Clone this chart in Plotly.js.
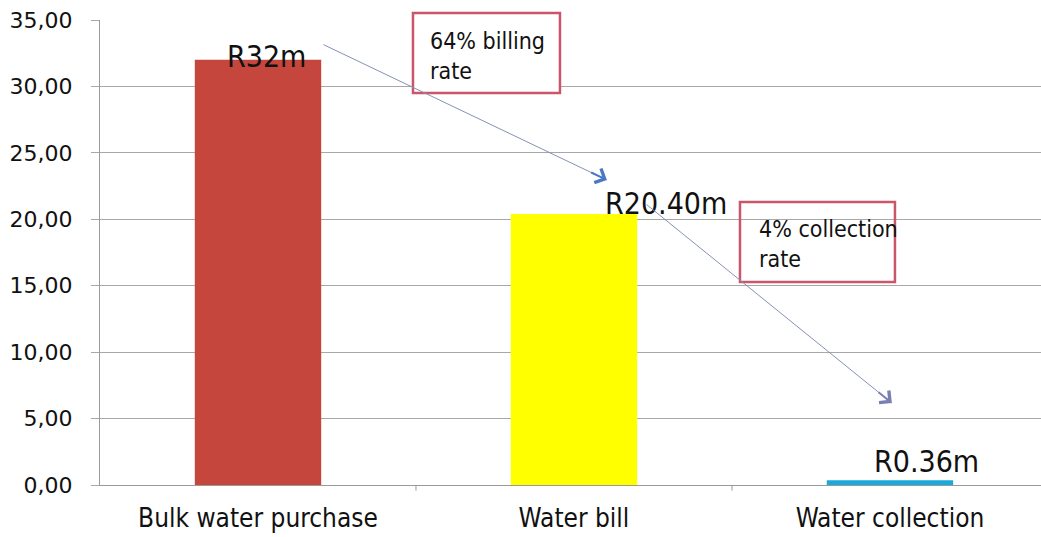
<!DOCTYPE html>
<html><head><meta charset="utf-8">
<script src="https://cdn.plot.ly/plotly-3.0.1.min.js"></script>
<style>html,body{margin:0;padding:0;background:#fff;}#chart{width:1041px;height:537px;}</style>
</head><body><div id="chart"></div>
<script>
const categories = ["Bulk water purchase", "Water bill", "Water collection"];
const values = [32, 20.40, 0.36];
const valueLabels = ["R32m", "R20.40m", "R0.36m"];
const barColors = ["#C4463D", "#FFFF00", "#1BA9DC"];
const rateLabels = ["64% billing<br>rate", "4% collection<br>rate"];

const FONT = "DejaVu Sans Condensed, DejaVu Sans, sans-serif";
const BOXCOLOR = "#C9566A";
const LINECOLOR = "#8592B4";

const trace = {
  type: "bar",
  x: categories.map((c, i) => i),
  y: values,
  width: 0.4,
  marker: {color: barColors},
  hoverinfo: "skip"
};

const annotations = [
  {x: 0, y: values[0], text: valueLabels[0], xshift: 9, yshift: 3},
  {x: 1, y: values[1], text: valueLabels[1], xshift: 92, yshift: 10},
  {x: 2, y: values[2], text: valueLabels[2], xshift: 37, yshift: 19}
].map(a => Object.assign({xref: "x", yref: "y", showarrow: false, yanchor: "middle",
  font: {family: FONT, size: 30, color: "#111"}}, a));

// arrows (tail -> head) in data coordinates
const arrows = [
  {tail: [0.2025, 33.2], head: [1.104, 22.96], headColor: "#4A78C6"},
  {tail: [1.225, 21.2], head: [2.006, 6.17], headColor: "#7A7EB0"}
];
arrows.forEach(a => {
  annotations.push({xref: "x", yref: "y", axref: "x", ayref: "y",
    x: a.head[0], y: a.head[1], ax: a.tail[0], ay: a.tail[1], text: "", showarrow: true,
    arrowhead: 0, arrowwidth: 1, arrowcolor: LINECOLOR});
  const bx = a.head[0] - (a.head[0] - a.tail[0]) * 0.06;
  const by = a.head[1] - (a.head[1] - a.tail[1]) * 0.06;
  annotations.push({xref: "x", yref: "y", axref: "x", ayref: "y",
    x: a.head[0], y: a.head[1], ax: bx, ay: by, text: "", showarrow: true,
    arrowhead: 4, arrowsize: 1.5, arrowwidth: 2, arrowcolor: a.headColor});
});

// rate box texts
annotations.push({xref: "paper", yref: "paper", x: 0.3485, y: 0.922, text: rateLabels[0],
  showarrow: false, align: "left", xanchor: "left", yanchor: "middle",
  font: {family: FONT, size: 23, color: "#111"}});
annotations.push({xref: "paper", yref: "paper", x: 0.698, y: 0.519, text: rateLabels[1],
  showarrow: false, align: "left", xanchor: "left", yanchor: "middle",
  font: {family: FONT, size: 23, color: "#111"}});

const layout = {
  width: 1041, height: 537,
  margin: {l: 100, r: 0, t: 20, b: 52, pad: 0},
  paper_bgcolor: "#fff", plot_bgcolor: "#fff",
  showlegend: false,
  separators: ",.",
  font: {family: FONT, color: "#111"},
  xaxis: {
    type: "linear", range: [-0.5, 2.478],
    tickvals: [0, 1, 2], ticktext: categories,
    showgrid: false, zeroline: false,
    showline: true, linecolor: "#9A9A9A", linewidth: 1,
    ticks: "", ticklabelstandoff: 10,
    tickfont: {family: FONT, size: 26, color: "#111"}
  },
  yaxis: {
    range: [0, 35], dtick: 5, tickformat: ".2f",
    showgrid: true, gridcolor: "#A8A8A8", gridwidth: 1,
    zeroline: false, showline: true, linecolor: "#9A9A9A", linewidth: 1,
    ticks: "outside", ticklen: 8, tickcolor: "#A8A8A8",
    ticklabelstandoff: 14,
    tickfont: {family: "DejaVu Sans, sans-serif", size: 22, color: "#111"}
  },
  shapes: [
    ...[0.5, 1.5].map(v => ({type: "line", xref: "x", yref: "paper",
      x0: v, x1: v, y0: 0, y1: -0.012, line: {color: "#9A9A9A", width: 1}})),
    {type: "rect", xref: "paper", yref: "paper", x0: 0.3326, x1: 0.4888, y0: 0.843, y1: 1.0151,
      fillcolor: "#fff", line: {color: BOXCOLOR, width: 2.5}, layer: "above"},
    {type: "rect", xref: "paper", yref: "paper", x0: 0.6801, x1: 0.8448, y0: 0.4366, y1: 0.6086,
      fillcolor: "rgba(255,255,255,0)", line: {color: BOXCOLOR, width: 2.5}, layer: "above"}
  ],
  annotations: annotations
};

Plotly.newPlot("chart", [trace], layout, {staticPlot: true, displayModeBar: false});
</script></body></html>
